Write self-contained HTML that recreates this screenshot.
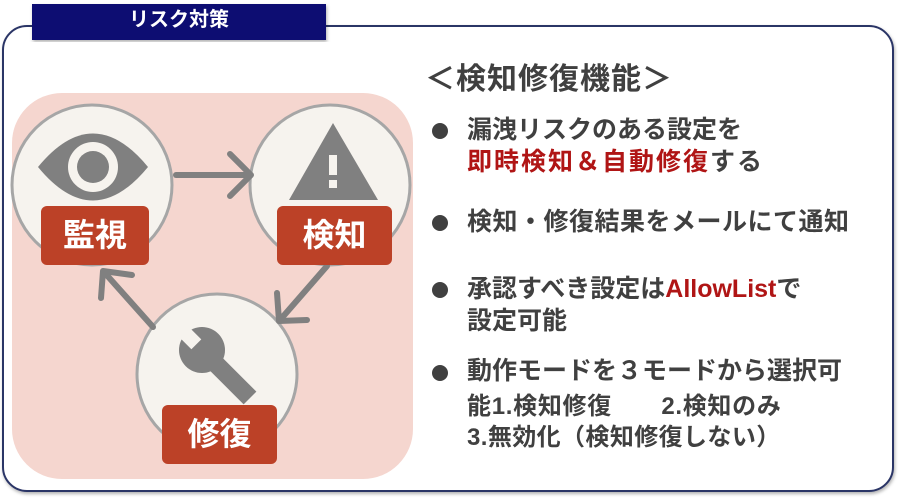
<!DOCTYPE html>
<html><head><meta charset="utf-8"><style>
html,body{margin:0;padding:0;background:#fff;}
body{width:900px;height:499px;position:relative;overflow:hidden;font-family:"Liberation Sans","Noto Sans CJK JP",sans-serif;}
.t{position:absolute;white-space:nowrap;color:#404040;font-weight:bold;line-height:1;}
.r{color:#b01515;}
.b{position:absolute;width:16px;height:16px;border-radius:50%;background:#404040;left:432px;}
</style></head><body>
<svg width="900" height="499" style="position:absolute;left:0;top:0">
<defs><filter id="sh" x="-5%" y="-5%" width="110%" height="110%"><feDropShadow dx="1" dy="2" stdDeviation="1.5" flood-color="#000" flood-opacity="0.3"/></filter></defs>
<rect x="3" y="26" width="890" height="465" rx="24" fill="#fff" stroke="#2b3466" stroke-width="2" filter="url(#sh)"/>
<rect x="32" y="4" width="294" height="36" fill="#0b0b72" filter="url(#sh)"/>
<rect x="12" y="93" width="401" height="386" rx="50" fill="#f5d6cf"/>
<g fill="#f6f3ee" stroke="#a6a6a6" stroke-width="3">
<circle cx="92" cy="185" r="80"/><circle cx="330" cy="185" r="80"/><circle cx="217" cy="374" r="80"/>
</g>
<path d="M38 167 Q93 100 148 167 Q93 234 38 167Z" fill="#808080"/>
<circle cx="93" cy="167" r="25" fill="#f6f3ee"/><circle cx="93" cy="167" r="16" fill="#808080"/>
<polygon points="333,123 378,200 289,200" fill="#808080"/>
<rect x="329" y="155" width="8" height="20" fill="#f6f3ee"/><rect x="329" y="180" width="8" height="8" fill="#f6f3ee"/>
<circle cx="202" cy="350" r="23" fill="#808080"/>
<line x1="202" y1="350" x2="250" y2="398" stroke="#808080" stroke-width="18"/>
<rect x="-7" y="-36" width="14" height="28" transform="translate(202,350) rotate(-45)" fill="#f6f3ee"/>
<g stroke="#808080" stroke-width="6" stroke-linecap="round" fill="none" stroke-linejoin="round">
<line x1="176" y1="175" x2="250" y2="175"/><polyline points="230,154 251,175 230,196"/>
<line x1="327" y1="266" x2="280" y2="320"/><polyline points="277,293 279,321 307,320"/>
<line x1="153" y1="327" x2="104" y2="272"/><polyline points="101,298 103,271 132,275"/>
</g>
<g fill="#bc4127">
<rect x="41" y="206" width="108" height="59" rx="6"/>
<rect x="277" y="206" width="115" height="59" rx="6"/>
<rect x="162" y="405" width="115" height="59" rx="6"/>
</g>
</svg>
<div class="t" style="left:32px;top:10px;width:294px;text-align:center;color:#fff;font-size:20px;">リスク対策</div>
<div class="t" style="left:41px;top:219px;width:108px;text-align:center;color:#fff;font-size:32px;">監視</div>
<div class="t" style="left:277px;top:219px;width:115px;text-align:center;color:#fff;font-size:32px;">検知</div>
<div class="t" style="left:162px;top:418px;width:115px;text-align:center;color:#fff;font-size:32px;">修復</div>

<div class="t" style="left:425px;top:65px;font-size:30px;letter-spacing:1px;">＜検知修復機能＞</div>
<div class="b" style="top:123px"></div>
<div class="t" style="left:467px;top:118px;font-size:25px;">漏洩リスクのある設定を</div>
<div class="t" style="left:467px;top:150px;font-size:25px;letter-spacing:2px;"><span class="r">即時検知＆自動修復</span>する</div>
<div class="b" style="top:215px"></div>
<div class="t" style="left:467px;top:210px;font-size:25px;letter-spacing:0.5px;">検知・修復結果をメールにて通知</div>
<div class="b" style="top:282px"></div>
<div class="t" style="left:467px;top:277px;font-size:25px;">承認すべき設定は<span class="r">AllowList</span>で</div>
<div class="t" style="left:467px;top:309px;font-size:25px;">設定可能</div>
<div class="b" style="top:365px"></div>
<div class="t" style="left:467px;top:359px;font-size:25px;">動作モードを３モードから選択可</div>
<div class="t" style="left:467px;top:395px;font-size:24px;letter-spacing:0.7px;">能1.検知修復　　2.検知のみ</div>
<div class="t" style="left:467px;top:426px;font-size:24px;letter-spacing:0.4px;">3.無効化（検知修復しない）</div>
</body></html>
